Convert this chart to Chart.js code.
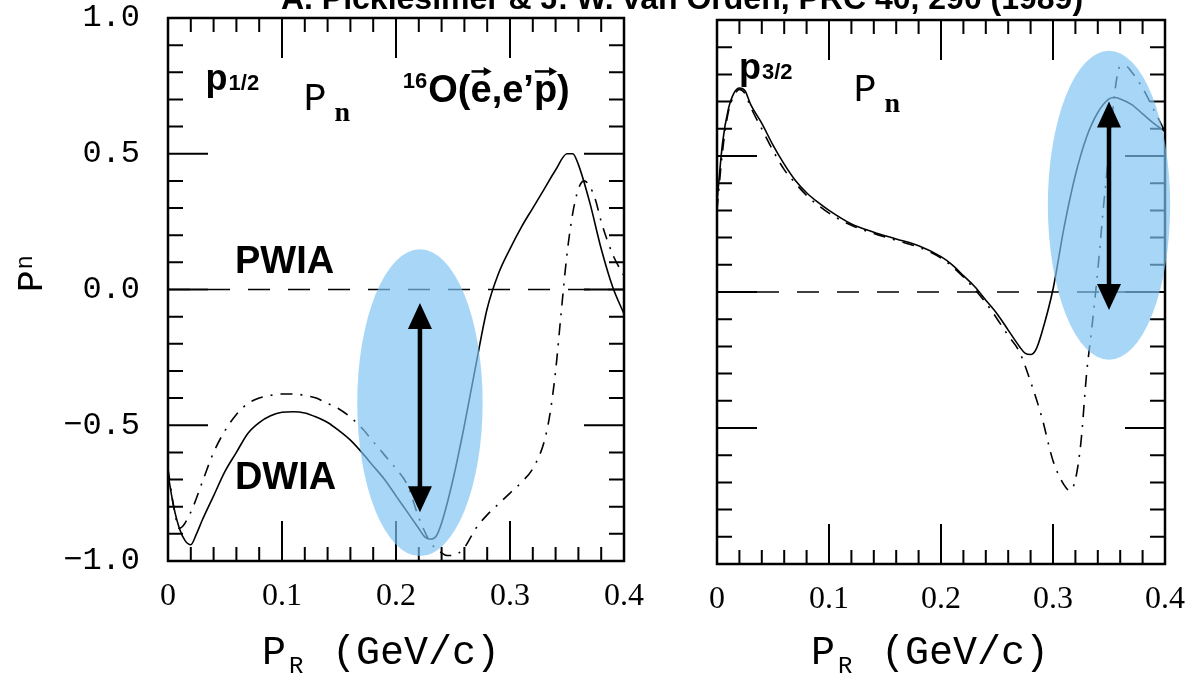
<!DOCTYPE html>
<html>
<head>
<meta charset="utf-8">
<script src="https://cdn.jsdelivr.net/npm/chart.js@4.4.0/dist/chart.umd.min.js"></script>
<style>
  html, body { margin: 0; padding: 0; background: #fff; overflow: hidden; }
  #wrap { position: relative; width: 1201px; height: 689px; overflow: hidden; }
  #cL { position: absolute; left: 0; top: 0; }
  #cR { position: absolute; left: 660px; top: 0; }
  #title {
    position: absolute; left: 182px; top: -18px; width: 1000px; text-align: center;
    font: bold 32px "Liberation Sans", Arial, sans-serif; line-height: 32px; white-space: nowrap; color: #000;
  }
</style>
</head>
<body>
<div id="wrap">
  <canvas id="cL" width="660" height="689"></canvas>
  <canvas id="cR" width="541" height="689"></canvas>
  <div id="title">A. Picklesimer &amp; J. W. van Orden, PRC 40, 290 (1989)</div>
</div>
<script>
// tick labels
const xTickLabels = ["0", "0.1", "0.2", "0.3", "0.4"];
const yTickLabels = ["\u22121.0", "\u22120.5", "0.0", "0.5", "1.0"];

// p1/2 panel - solid (DWIA)
const leftX = [0, 0.005, 0.01, 0.015, 0.02, 0.025, 0.03, 0.04, 0.05, 0.06, 0.07, 0.08, 0.09, 0.10, 0.11, 0.12, 0.13, 0.14, 0.15, 0.16, 0.17, 0.18, 0.19, 0.20, 0.21, 0.22, 0.225, 0.23, 0.235, 0.24, 0.25, 0.26, 0.27, 0.28, 0.29, 0.30, 0.31, 0.32, 0.33, 0.34, 0.35, 0.355, 0.36, 0.37, 0.38, 0.39, 0.40];
const leftSolid = [-0.68, -0.80, -0.88, -0.925, -0.94, -0.90, -0.85, -0.76, -0.67, -0.60, -0.53, -0.49, -0.465, -0.452, -0.45, -0.455, -0.47, -0.49, -0.52, -0.555, -0.60, -0.65, -0.70, -0.76, -0.82, -0.88, -0.91, -0.92, -0.91, -0.86, -0.70, -0.50, -0.28, -0.07, 0.06, 0.15, 0.23, 0.30, 0.37, 0.44, 0.50, 0.50, 0.46, 0.32, 0.15, 0.01, -0.09];
// p1/2 panel - dash-dot
const leftX2 = [0, 0.005, 0.01, 0.02, 0.03, 0.04, 0.05, 0.06, 0.07, 0.08, 0.09, 0.10, 0.11, 0.12, 0.13, 0.14, 0.15, 0.16, 0.17, 0.18, 0.19, 0.20, 0.21, 0.22, 0.23, 0.24, 0.245, 0.25, 0.26, 0.27, 0.28, 0.29, 0.30, 0.31, 0.32, 0.33, 0.335, 0.34, 0.345, 0.35, 0.355, 0.36, 0.365, 0.37, 0.375, 0.38, 0.39, 0.40];
const leftDashDot = [-0.66, -0.80, -0.88, -0.82, -0.71, -0.60, -0.52, -0.46, -0.42, -0.40, -0.39, -0.385, -0.385, -0.39, -0.40, -0.42, -0.44, -0.47, -0.51, -0.56, -0.61, -0.66, -0.72, -0.84, -0.93, -0.97, -0.98, -0.98, -0.95, -0.88, -0.83, -0.79, -0.75, -0.71, -0.66, -0.56, -0.46, -0.30, -0.08, 0.13, 0.28, 0.37, 0.40, 0.38, 0.33, 0.25, 0.13, 0.05];

// p3/2 panel - solid
const rightX = [0, 0.005, 0.01, 0.015, 0.02, 0.025, 0.03, 0.04, 0.05, 0.06, 0.07, 0.08, 0.09, 0.10, 0.12, 0.14, 0.16, 0.18, 0.20, 0.21, 0.22, 0.23, 0.24, 0.25, 0.26, 0.27, 0.275, 0.28, 0.285, 0.29, 0.30, 0.31, 0.32, 0.33, 0.34, 0.35, 0.355, 0.36, 0.37, 0.38, 0.39, 0.40];
const rightSolid = [0.33, 0.55, 0.67, 0.73, 0.75, 0.74, 0.69, 0.62, 0.54, 0.47, 0.41, 0.365, 0.33, 0.30, 0.25, 0.22, 0.195, 0.17, 0.13, 0.10, 0.06, 0.02, -0.03, -0.08, -0.14, -0.20, -0.225, -0.23, -0.21, -0.15, 0.01, 0.24, 0.43, 0.57, 0.66, 0.71, 0.715, 0.71, 0.69, 0.655, 0.62, 0.59];
// p3/2 panel - dash-dot
const rightX2 = [0, 0.005, 0.01, 0.015, 0.02, 0.025, 0.03, 0.04, 0.05, 0.06, 0.07, 0.08, 0.09, 0.10, 0.12, 0.14, 0.16, 0.18, 0.20, 0.22, 0.24, 0.26, 0.27, 0.28, 0.29, 0.30, 0.31, 0.315, 0.32, 0.325, 0.33, 0.335, 0.34, 0.345, 0.35, 0.355, 0.36, 0.365, 0.37, 0.38, 0.39, 0.40];
const rightDashDot = [0.30, 0.52, 0.66, 0.72, 0.745, 0.73, 0.68, 0.60, 0.52, 0.45, 0.40, 0.355, 0.32, 0.29, 0.245, 0.215, 0.19, 0.165, 0.125, 0.055, -0.04, -0.16, -0.22, -0.33, -0.46, -0.62, -0.71, -0.73, -0.69, -0.55, -0.30, -0.12, 0.08, 0.31, 0.52, 0.73, 0.83, 0.83, 0.81, 0.75, 0.67, 0.59];

// PWIA (both panels)
const pwiaX = [0, 0.4];
const pwiaY = [0, 0];

// highlight ellipses [centre x, centre y, radius x, radius y] and arrows [x, top, bottom]
const leftEllipse = [0.221, -0.417, 0.055, 0.565];
const leftArrow = [0.221, -0.05, -0.82];
const rightEllipse = [0.350, 0.319, 0.0546, 0.568];
const rightArrow = [0.350, 0.70, -0.066];

const pts = (xs, ys) => xs.map((x, i) => ({ x, y: ys[i] }));
const MONO = '"Liberation Mono", monospace';
const SANS = '"Liberation Sans", Arial, sans-serif';

function line(label, xs, ys, dash) {
  return {
    label, data: pts(xs, ys), borderColor: "#000", borderWidth: 1.6, borderDash: dash,
    pointRadius: 0, fill: false, cubicInterpolationMode: "monotone"
  };
}

function drawFrame(chart) {
  const { ctx, chartArea: a, scales: { x, y } } = chart;
  ctx.save();
  ctx.strokeStyle = "#000";
  ctx.lineWidth = 2.5;
  ctx.strokeRect(a.left, a.top, a.right - a.left, a.bottom - a.top);
  ctx.lineWidth = 2;
  ctx.beginPath();
  for (let i = 1; i < 20; i++) {
    const px = x.getPixelForValue(i * 0.02);
    const len = i % 5 === 0 ? 40 : 14;
    ctx.moveTo(px, a.bottom); ctx.lineTo(px, a.bottom - len);
    ctx.moveTo(px, a.top); ctx.lineTo(px, a.top + len);
  }
  for (let i = 1; i < 20; i++) {
    const py = y.getPixelForValue(-1 + i * 0.1);
    const len = i % 5 === 0 ? 40 : 15;
    ctx.moveTo(a.left, py); ctx.lineTo(a.left + len, py);
    ctx.moveTo(a.right, py); ctx.lineTo(a.right - len, py);
  }
  ctx.stroke();
  ctx.restore();
}

function drawHighlight(chart, ell, arr) {
  const { ctx, scales: { x, y } } = chart;
  const cx = x.getPixelForValue(ell[0]), cy = y.getPixelForValue(ell[1]);
  const rx = x.getPixelForValue(ell[0] + ell[2]) - cx;
  const ry = cy - y.getPixelForValue(ell[1] + ell[3]);
  ctx.save();
  ctx.fillStyle = "rgba(125,195,242,0.68)";
  ctx.beginPath();
  ctx.ellipse(cx, cy, rx, ry, 0, 0, Math.PI * 2);
  ctx.fill();
  // double headed arrow
  const ax = x.getPixelForValue(arr[0]);
  const y0 = y.getPixelForValue(arr[1]), y1 = y.getPixelForValue(arr[2]);
  const head = 26, hw = 12;
  ctx.strokeStyle = "#000"; ctx.fillStyle = "#000"; ctx.lineWidth = 4.5;
  ctx.beginPath(); ctx.moveTo(ax, y0 + head - 2); ctx.lineTo(ax, y1 - head + 2); ctx.stroke();
  ctx.beginPath(); ctx.moveTo(ax, y0); ctx.lineTo(ax - hw, y0 + head); ctx.lineTo(ax + hw, y0 + head); ctx.closePath(); ctx.fill();
  ctx.beginPath(); ctx.moveTo(ax, y1); ctx.lineTo(ax - hw, y1 - head); ctx.lineTo(ax + hw, y1 - head); ctx.closePath(); ctx.fill();
  ctx.restore();
}

function txt(ctx, s, px, py, font) {
  ctx.font = font;
  ctx.fillText(s, px, py);
  return px + ctx.measureText(s).width;
}

function orbital(chart, main, sub, xv, yv) {
  const { ctx, scales: { x, y } } = chart;
  const px = x.getPixelForValue(xv), py = y.getPixelForValue(yv);
  const e = txt(ctx, main, px, py, "bold 36px " + SANS);
  txt(ctx, sub, e + 1, py, "bold 22px " + SANS);
}

function pn(chart, xv, yv) {
  const { ctx, scales: { x, y } } = chart;
  const px = x.getPixelForValue(xv), py = y.getPixelForValue(yv);
  const e = txt(ctx, "P", px, py, "38px " + MONO);
  txt(ctx, "n", e + 8, py + 11, 'bold 28px "Liberation Serif", serif');
}

function xTitle(chart) {
  const { ctx, chartArea: a } = chart;
  const px = a.left + 94, py = 664;
  txt(ctx, "P", px, py, "40px " + MONO);
  txt(ctx, "R", px + 27, py + 9, "24px " + MONO);
  txt(ctx, "(GeV/c)", px + 70, py, "40px " + MONO);
}

function vecArrow(ctx, x0, x1, yy) {
  ctx.save();
  ctx.lineWidth = 2.5;
  ctx.beginPath(); ctx.moveTo(x0, yy); ctx.lineTo(x1 - 3, yy); ctx.stroke();
  ctx.beginPath(); ctx.moveTo(x1 + 1, yy); ctx.lineTo(x1 - 7, yy - 4.5); ctx.lineTo(x1 - 7, yy + 4.5); ctx.closePath(); ctx.fill();
  ctx.restore();
}

const leftDecor = {
  id: "leftDecor",
  beforeDatasetsDraw: drawFrame,
  afterDatasetsDraw(chart) { drawHighlight(chart, leftEllipse, leftArrow); },
  afterDraw(chart) {
    const { ctx, scales: { x, y } } = chart;
    ctx.save();
    ctx.fillStyle = "#000"; ctx.strokeStyle = "#000";
    ctx.textBaseline = "alphabetic"; ctx.textAlign = "left";
    orbital(chart, "p", "1/2", 0.033, 0.733);
    pn(chart, 0.119, 0.66);
    // reaction label
    let px = x.getPixelForValue(0.206), py = y.getPixelForValue(0.689);
    const B = "bold 38px " + SANS;
    let e = txt(ctx, "16", px, py - 14, "bold 22px " + SANS);
    e = txt(ctx, "O(", e + 1, py, B);
    const eStart = e;
    e = txt(ctx, "e", e, py, B);
    vecArrow(ctx, eStart + 1, e - 1, py - 31);
    e = txt(ctx, ",e\u2019", e, py, B);
    const pStart = e;
    e = txt(ctx, "p", e, py, B);
    vecArrow(ctx, pStart + 1, e - 1, py - 31);
    txt(ctx, ")", e, py, B);
    txt(ctx, "PWIA", x.getPixelForValue(0.0587), y.getPixelForValue(0.059), "bold 38px " + SANS);
    txt(ctx, "DWIA", x.getPixelForValue(0.0587), y.getPixelForValue(-0.733), "bold 38px " + SANS);
    xTitle(chart);
    // rotated y title
    ctx.translate(42, 292);
    ctx.rotate(-Math.PI / 2);
    const w = txt(ctx, "P", 0, 0, "36px " + MONO);
    txt(ctx, "n", w + 1, -10, "24px " + MONO);
    ctx.restore();
  }
};

const rightDecor = {
  id: "rightDecor",
  beforeDatasetsDraw: drawFrame,
  afterDatasetsDraw(chart) { drawHighlight(chart, rightEllipse, rightArrow); },
  afterDraw(chart) {
    const { ctx } = chart;
    ctx.save();
    ctx.fillStyle = "#000";
    ctx.textBaseline = "alphabetic"; ctx.textAlign = "left";
    orbital(chart, "p", "3/2", 0.0196, 0.784);
    pn(chart, 0.122, 0.703);
    xTitle(chart);
    ctx.restore();
  }
};

function options(yLabels, padRight, padTop, yWidth, xHeight) {
  return {
    responsive: false, animation: false, devicePixelRatio: 1,
    layout: { padding: { left: 0, right: padRight, top: padTop, bottom: 0 }, autoPadding: false },
    plugins: { legend: { display: false }, tooltip: { enabled: false } },
    scales: {
      x: {
        type: "linear", min: 0, max: 0.4,
        grid: { display: false, drawTicks: false }, border: { display: false },
        ticks: {
          stepSize: 0.1, padding: 16, color: "#000", autoSkip: false, maxRotation: 0,
          font: { family: '"Liberation Serif", serif', size: 32 },
          callback: v => xTickLabels[Math.round(v / 0.1)]
        },
        afterFit(s) { s.height = xHeight; }
      },
      y: {
        type: "linear", min: -1, max: 1,
        grid: { display: false, drawTicks: false }, border: { display: false },
        ticks: {
          display: yLabels, stepSize: 0.5, padding: 28, color: "#000",
          font: { family: MONO, size: 32, lineHeight: 0.4 },
          callback: v => yTickLabels[Math.round((v + 1) / 0.5)]
        },
        afterFit(s) { s.width = yWidth; s.paddingTop = 0; s.paddingBottom = 0; }
      }
    }
  };
}

new Chart(document.getElementById("cL"), {
  type: "line",
  data: {
    datasets: [
      line("DWIA", leftX, leftSolid, []),
      line("DWIA (alt)", leftX2, leftDashDot, [12, 8, 2, 8]),
      line("PWIA", pwiaX, pwiaY, [22, 18])
    ]
  },
  options: options(true, 22, 18, 168, 128),
  plugins: [leftDecor]
});

new Chart(document.getElementById("cR"), {
  type: "line",
  data: {
    datasets: [
      line("DWIA", rightX, rightSolid, []),
      line("DWIA (alt)", rightX2, rightDashDot, [12, 8, 2, 8]),
      line("PWIA", pwiaX, pwiaY, [22, 18])
    ]
  },
  options: options(false, 15, 20, 57, 125),
  plugins: [rightDecor]
});
</script>
</body>
</html>
